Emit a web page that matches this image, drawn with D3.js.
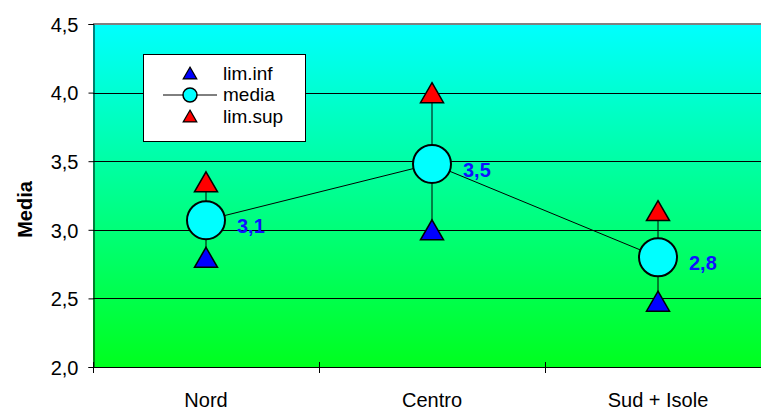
<!DOCTYPE html>
<html>
<head>
<meta charset="utf-8">
<script src="https://cdn.jsdelivr.net/npm/d3@7"></script>
<style>
  html, body { margin: 0; padding: 0; background: #fff; }
  svg { display: block; font-family: Arial, "Liberation Sans", sans-serif; }
</style>
</head>
<body>
<svg id="chart" width="761" height="410"></svg>
<script>
// Regional means with lower / upper confidence limits
const categories = ["Nord", "Centro", "Sud + Isole"];
const limInf = [2.79, 2.99, 2.47];
const media = [3.07, 3.48, 2.80];
const limSup = [3.34, 3.99, 3.13];
const mediaLabels = ["3,1", "3,5", "2,8"];
const yTicks = [2.0, 2.5, 3.0, 3.5, 4.0, 4.5];
const legendItems = ["lim.inf", "media", "lim.sup"];

const svg = d3.select("#chart");
const plot = { left: 93, top: 24, width: 678, height: 343 };

const x = d3.scaleBand().domain(categories).range([plot.left, plot.left + plot.width]);
const y = d3.scaleLinear().domain([2.0, 4.5]).range([plot.top + plot.height, plot.top]);
const fmt = d => d3.format(".1f")(d).replace(".", ",");

// Background gradient of the plot area
const defs = svg.append("defs");
const grad = defs.append("linearGradient")
  .attr("id", "bg").attr("x1", 0).attr("y1", 0).attr("x2", 0).attr("y2", 1);
grad.append("stop").attr("offset", "0%").attr("stop-color", "#00ffff");
grad.append("stop").attr("offset", "100%").attr("stop-color", "#00ff1e");

svg.append("rect")
  .attr("x", plot.left).attr("y", plot.top)
  .attr("width", plot.width).attr("height", plot.height)
  .attr("fill", "url(#bg)");

// Horizontal gridlines
svg.append("g").selectAll("line")
  .data(yTicks.filter(t => t > 2.0 && t < 4.5))
  .join("line")
  .attr("x1", plot.left).attr("x2", plot.left + plot.width)
  .attr("y1", d => Math.round(y(d)) + 0.5).attr("y2", d => Math.round(y(d)) + 0.5)
  .attr("stroke", "#000").attr("stroke-width", 1);

// Plot area top border
svg.append("line")
  .attr("x1", plot.left).attr("x2", plot.left + plot.width)
  .attr("y1", y(4.5)).attr("y2", y(4.5))
  .attr("stroke", "#808080").attr("stroke-width", 2);

// Y axis
const yAxis = svg.append("g")
  .attr("transform", `translate(${plot.left + 0.5},0)`)
  .call(d3.axisLeft(y).tickValues(yTicks).tickFormat(fmt).tickSize(5).tickPadding(10));
yAxis.select(".domain").attr("stroke", "#000");
yAxis.selectAll(".tick line").attr("stroke", "#000");
yAxis.selectAll(".tick text")
  .attr("font-size", 20).attr("fill", "#000")
  .attr("font-family", "Arial, 'Liberation Sans', sans-serif")
  .attr("dy", "0.36em");

// X axis with tick marks on category boundaries
const xAxisY = plot.top + plot.height;
svg.append("line")
  .attr("x1", plot.left).attr("x2", plot.left + plot.width)
  .attr("y1", xAxisY + 0.5).attr("y2", xAxisY + 0.5)
  .attr("stroke", "#000");
const boundaries = categories.map(c => x(c)).concat([x(categories[categories.length - 1]) + x.bandwidth()]);
svg.append("g").selectAll("line")
  .data(boundaries)
  .join("line")
  .attr("x1", d => Math.round(d) + 0.5).attr("x2", d => Math.round(d) + 0.5)
  .attr("y1", xAxisY - 5).attr("y2", xAxisY + 6)
  .attr("stroke", "#000");
svg.append("g").selectAll("text")
  .data(categories)
  .join("text")
  .attr("x", d => x(d) + x.bandwidth() / 2)
  .attr("y", 407)
  .attr("text-anchor", "middle")
  .attr("font-size", 20)
  .attr("fill", "#000")
  .text(d => d);

// Y axis title
svg.append("text")
  .attr("transform", `translate(32,${(plot.top + xAxisY) / 2 + 14}) rotate(-90)`)
  .attr("text-anchor", "middle")
  .attr("font-size", 20)
  .attr("font-weight", "bold")
  .attr("fill", "#000")
  .text("Media");

const cx = i => x(categories[i]) + x.bandwidth() / 2;
const tri = d3.symbol().type(d3.symbolTriangle);

// Vertical range lines from lim.inf to lim.sup
svg.append("g").selectAll("line")
  .data(categories)
  .join("line")
  .attr("x1", (d, i) => cx(i)).attr("x2", (d, i) => cx(i))
  .attr("y1", (d, i) => y(limInf[i])).attr("y2", (d, i) => y(limSup[i]))
  .attr("stroke", "#000").attr("stroke-width", 1);

// Line joining the means
svg.append("path")
  .datum(media)
  .attr("d", d3.line().x((d, i) => cx(i)).y(d => y(d)))
  .attr("fill", "none").attr("stroke", "#000").attr("stroke-width", 1);

// Triangle markers (centred on the value)
function drawTriangles(values, color) {
  svg.append("g").selectAll("path")
    .data(values)
    .join("path")
    .attr("d", tri.size(230)())
    .attr("transform", (d, i) => `translate(${cx(i)},${y(d) + 2})`)
    .attr("fill", color).attr("stroke", "#000").attr("stroke-width", 1.5);
}
drawTriangles(limInf, "#0000ff");
drawTriangles(limSup, "#ff0000");

// Mean markers
svg.append("g").selectAll("circle")
  .data(media)
  .join("circle")
  .attr("cx", (d, i) => cx(i)).attr("cy", d => y(d))
  .attr("r", 19)
  .attr("fill", "#00ffff").attr("stroke", "#000").attr("stroke-width", 2);

// Mean value labels
svg.append("g").selectAll("text")
  .data(media)
  .join("text")
  .attr("x", (d, i) => cx(i) + 31)
  .attr("y", d => y(d) + 13)
  .attr("font-size", 20).attr("font-weight", "bold")
  .attr("fill", "#1010ff")
  .text((d, i) => mediaLabels[i]);

// Legend
const legend = svg.append("g");
legend.append("rect")
  .attr("x", 143.5).attr("y", 54.5).attr("width", 162).attr("height", 87)
  .attr("fill", "#fff").attr("stroke", "#000").attr("stroke-width", 1);
const legendY = [74, 95, 117];
const lg = legend.selectAll("g.item")
  .data(legendItems)
  .join("g").attr("class", "item")
  .attr("transform", (d, i) => `translate(190,${legendY[i]})`);
lg.filter(d => d === "media").append("line")
  .attr("x1", -27).attr("x2", 27).attr("y1", 0).attr("y2", 0)
  .attr("stroke", "#000").attr("stroke-width", 1);
lg.filter(d => d === "media").append("circle")
  .attr("r", 7).attr("fill", "#00ffff").attr("stroke", "#000").attr("stroke-width", 1.5);
lg.filter(d => d !== "media").append("path")
  .attr("d", tri.size(80)())
  .attr("transform", "translate(0,1)")
  .attr("fill", d => d === "lim.inf" ? "#0000ff" : "#ff0000")
  .attr("stroke", "#000").attr("stroke-width", 1.2);
lg.append("text")
  .attr("x", 33).attr("y", 6)
  .attr("font-size", 19).attr("fill", "#000")
  .text(d => d);
</script>
</body>
</html>
